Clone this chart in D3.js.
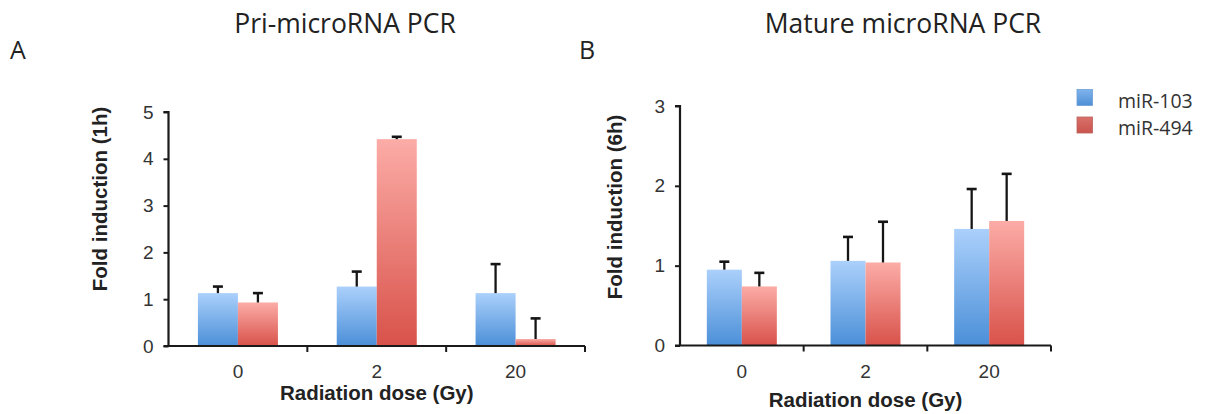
<!DOCTYPE html>
<html>
<head>
<meta charset="utf-8">
<script src="https://cdn.jsdelivr.net/npm/d3@7"></script>
<style>
body{margin:0;background:#fff}
svg{display:block}
</style>
</head>
<body>
<svg width="1214" height="414"></svg>
<script>
// values
var doses = ['0', '2', '20']
var seriesNames = ['miR-103', 'miR-494']

// A: pri-microRNA, 1h
var priMean103 = [1.13, 1.27, 1.13]
var priErr103 = [0.14, 0.32, 0.62]
var priMean494 = [0.93, 4.42, 0.15]
var priErr494 = [0.20, 0.05, 0.44]
var priTicks = [0, 1, 2, 3, 4, 5]

// B: mature microRNA, 6h
var matMean103 = [0.95, 1.06, 1.46]
var matErr103 = [0.10, 0.30, 0.50]
var matMean494 = [0.74, 1.04, 1.56]
var matErr494 = [0.17, 0.51, 0.59]
var matTicks = [0, 1, 2, 3]

var svg = d3.select('svg')
var defs = svg.append('defs')

function grad(id, top, bottom) {
    var g = defs.append('linearGradient').attr('id', id)
        .attr('x1', 0).attr('y1', 0).attr('x2', 0).attr('y2', 1)
    g.append('stop').attr('offset', '0%').attr('stop-color', top)
    g.append('stop').attr('offset', '100%').attr('stop-color', bottom)
}
grad('g103', '#abd0fb', '#4b8fd8')
grad('g494', '#fcaca7', '#d8524a')
grad('l103', '#7fb3ec', '#4f8fd6')
grad('l494', '#d9706a', '#c9544d')
var fills = ['url(#g103)', 'url(#g494)']

function panel(o) {
    var x0 = d3.scaleBand().domain(doses).range([o.left, o.right])
        .paddingInner(o.pin).paddingOuter(o.pin / 2)
    var x1 = d3.scaleBand().domain(seriesNames).range([0, x0.bandwidth()])
    var y = d3.scaleLinear().domain([0, d3.max(o.ticks)]).range([o.bottom, o.top])

    var rows = []
    doses.forEach(function(d, i) {
        rows.push({dose: d, s: seriesNames[0], v: o.m1[i], e: o.e1[i], k: 0})
        rows.push({dose: d, s: seriesNames[1], v: o.m2[i], e: o.e2[i], k: 1})
    })

    var g = svg.append('g')

    g.selectAll('rect.bar').data(rows).enter().append('rect')
        .attr('class', 'bar')
        .attr('x', function(d) { return x0(d.dose) + x1(d.s) })
        .attr('y', function(d) { return y(d.v) })
        .attr('width', x1.bandwidth())
        .attr('height', function(d) { return y(0) - y(d.v) })
        .attr('fill', function(d) { return fills[d.k] })

    // error bars, upper side only
    var eb = g.selectAll('g.err').data(rows).enter().append('g').attr('class', 'err')
    eb.append('line')
        .attr('x1', function(d) { return x0(d.dose) + x1(d.s) + x1.bandwidth() / 2 })
        .attr('x2', function(d) { return x0(d.dose) + x1(d.s) + x1.bandwidth() / 2 })
        .attr('y1', function(d) { return y(d.v) })
        .attr('y2', function(d) { return y(d.v + d.e) })
        .attr('stroke', '#151515').attr('stroke-width', 2.3)
    eb.append('line')
        .attr('x1', function(d) { return x0(d.dose) + x1(d.s) + x1.bandwidth() / 2 - 5 })
        .attr('x2', function(d) { return x0(d.dose) + x1(d.s) + x1.bandwidth() / 2 + 5 })
        .attr('y1', function(d) { return y(d.v + d.e) })
        .attr('y2', function(d) { return y(d.v + d.e) })
        .attr('stroke', '#151515').attr('stroke-width', 2.6)

    // y axis
    var ya = g.append('g').attr('transform', 'translate(' + o.left + ',0)')
        .call(d3.axisLeft(y).tickValues(o.ticks).tickFormat(d3.format('d')).tickSize(5).tickPadding(10))
    ya.select('.domain').attr('stroke', '#1a1a1a').attr('stroke-width', 2.2)
        .attr('d', 'M-5,' + y(d3.max(o.ticks)) + 'H0V' + y(0))
    ya.selectAll('.tick line').attr('stroke', '#1a1a1a').attr('stroke-width', 2)
    ya.selectAll('.tick text').attr('font-family', 'Liberation Sans, Arial, sans-serif')
        .attr('font-size', 19).attr('fill', '#333')

    // x axis: ticks sit between the dose groups
    var step = x0.step()
    g.append('line').attr('x1', o.left - 5).attr('x2', o.right)
        .attr('y1', y(0)).attr('y2', y(0))
        .attr('stroke', '#1a1a1a').attr('stroke-width', 2.2)
    g.selectAll('line.xt').data(d3.range(1, doses.length + 1)).enter().append('line')
        .attr('class', 'xt')
        .attr('x1', function(i) { return o.left + i * step })
        .attr('x2', function(i) { return o.left + i * step })
        .attr('y1', y(0)).attr('y2', y(0) + 6)
        .attr('stroke', '#1a1a1a').attr('stroke-width', 2)
    g.selectAll('text.xl').data(doses).enter().append('text')
        .attr('class', 'xl')
        .attr('x', function(d) { return x0(d) + x0.bandwidth() / 2 })
        .attr('y', 378)
        .attr('text-anchor', 'middle')
        .attr('font-family', 'Liberation Sans, Arial, sans-serif')
        .attr('font-size', 19).attr('fill', '#333')
        .text(function(d) { return d })

    g.append('text')
        .attr('x', (o.left + o.right) / 2 + o.xlShift).attr('y', o.xly)
        .attr('text-anchor', 'middle')
        .attr('font-family', 'Liberation Sans, Arial, sans-serif')
        .attr('font-weight', 'bold').attr('font-size', 20.5).attr('fill', '#222')
        .text('Radiation dose (Gy)')

    g.append('text')
        .attr('transform', 'translate(' + o.ylx + ',' + o.yly + ') rotate(-90)')
        .attr('text-anchor', 'middle')
        .attr('font-family', 'Liberation Sans, Arial, sans-serif')
        .attr('font-weight', 'bold').attr('font-size', 20.5).attr('fill', '#222')
        .text(o.ylabel)

    svg.append('text')
        .attr('x', o.titleX).attr('y', 33)
        .attr('text-anchor', 'middle')
        .attr('font-family', 'Open Sans, sans-serif')
        .attr('font-size', 26.5).attr('fill', '#222')
        .text(o.title)
    svg.append('text')
        .attr('x', o.letterX).attr('y', 59)
        .attr('font-family', 'Open Sans, sans-serif')
        .attr('font-size', 25).attr('fill', '#222')
        .text(o.letter)
}

panel({left: 168.5, right: 585, top: 112, bottom: 346, pin: 0.4236, ticks: priTicks,
    m1: priMean103, e1: priErr103, m2: priMean494, e2: priErr494,
    ylabel: 'Fold induction (1h)', ylx: 107, yly: 199, xlShift: 0, xly: 400,
    title: 'Pri-microRNA PCR', titleX: 345, letter: 'A', letterX: 10})

panel({left: 680, right: 1051, top: 106, bottom: 345.5, pin: 0.434, ticks: matTicks,
    m1: matMean103, e1: matErr103, m2: matMean494, e2: matErr494,
    ylabel: 'Fold induction (6h)', ylx: 622, yly: 207, xlShift: 0, xly: 407,
    title: 'Mature microRNA PCR', titleX: 903, letter: 'B', letterX: 579})

// legend
var leg = svg.append('g').selectAll('g').data(seriesNames).enter().append('g')
    .attr('transform', function(d, i) { return 'translate(1077,' + (89.5 + i * 27.5) + ')' })
leg.append('rect').attr('width', 15.5).attr('height', 16)
    .attr('fill', function(d, i) { return i == 0 ? 'url(#l103)' : 'url(#l494)' })
    .attr('stroke', function(d, i) { return i == 0 ? '#6c9fd8' : '#b9615c' }).attr('stroke-width', 0.8)
leg.append('text').attr('x', 41).attr('y', 18)
    .attr('font-family', 'Open Sans, sans-serif')
    .attr('font-size', 19.5).attr('fill', '#333')
    .text(function(d) { return d })
</script>
</body>
</html>
